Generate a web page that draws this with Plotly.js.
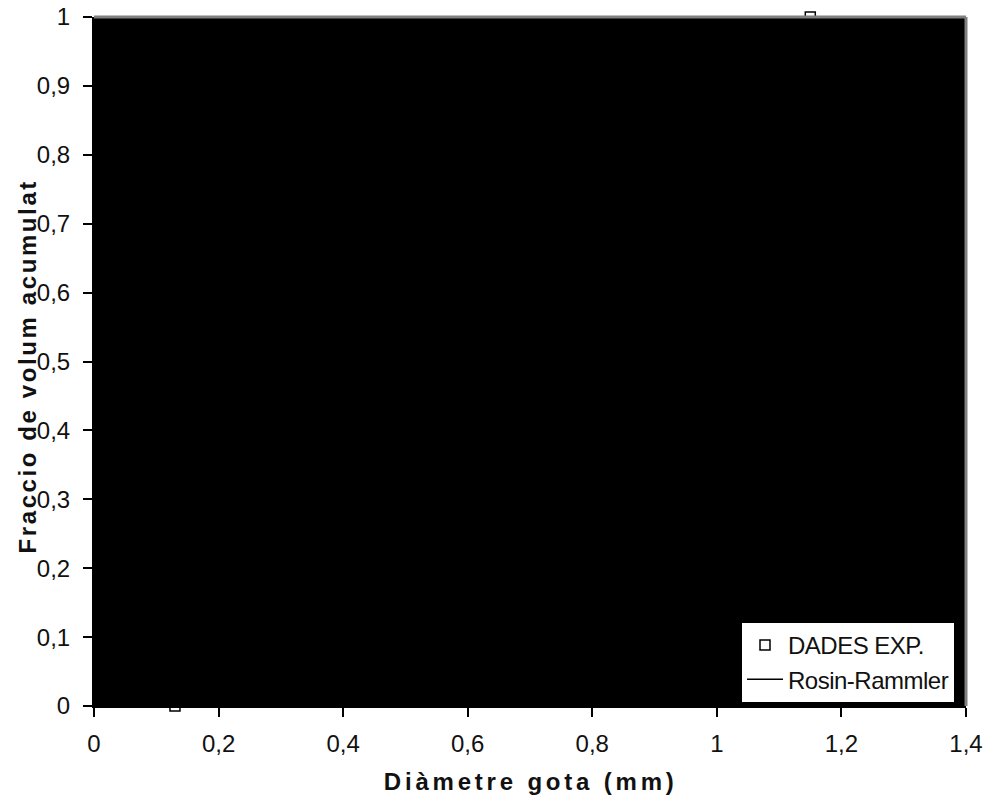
<!DOCTYPE html>
<html>
<head>
<meta charset="utf-8">
<script src="https://cdn.plot.ly/plotly-3.0.1.min.js"></script>
<style>
html,body{margin:0;padding:0;background:#fff;}
#chart{width:991px;height:812px;}
.annotation[data-index="0"] .annotation-text{letter-spacing:3.8px;}
.annotation[data-index="1"] .annotation-text{letter-spacing:2.6px;}
.legendtext{letter-spacing:-0.5px;}
</style>
</head>
<body>
<div id="chart"></div>
<script>
// Experimental data (cumulative volume fraction vs drop diameter, mm)
const expDiam = [0.13, 0.22, 0.31, 0.40, 0.49, 0.58, 0.67, 0.76, 0.85, 0.94, 1.04, 1.15];
const expFrac = [0.00, 0.03, 0.09, 0.18, 0.30, 0.44, 0.58, 0.71, 0.82, 0.91, 0.97, 1.00];
// Rosin-Rammler fitted curve (values estimated)
const rrDiam = [0.18, 0.25, 0.35, 0.45, 0.55, 0.65, 0.75, 0.85, 0.95, 1.05, 1.15, 1.25];
const rrFrac = [0.00, 0.04, 0.12, 0.24, 0.38, 0.53, 0.67, 0.79, 0.88, 0.94, 0.98, 0.99];
const xTicks = [0, 0.2, 0.4, 0.6, 0.8, 1, 1.2, 1.4];
const yTicks = [0, 0.1, 0.2, 0.3, 0.4, 0.5, 0.6, 0.7, 0.8, 0.9, 1];

const font = 'Arial, "Liberation Sans", sans-serif';
const traces = [
  {x: expDiam, y: expFrac, name: 'DADES EXP.', type: 'scatter', mode: 'markers',
   cliponaxis: false,
   marker: {symbol: 'square-open', size: 10, color: '#000', line: {width: 1.5, color: '#000'}}},
  {x: rrDiam, y: rrFrac, name: 'Rosin-Rammler', type: 'scatter', mode: 'lines',
   line: {color: '#000', width: 1.5}}
];
const L = 94, R = 966, T = 17, B = 706;
const layout = {
  width: 991, height: 812,
  margin: {l: L, r: 991 - R, t: T, b: 812 - B, pad: 0},
  paper_bgcolor: '#fff', plot_bgcolor: '#000',
  separators: ', ',
  font: {family: font, size: 24, color: '#000'},
  showlegend: true,
  xaxis: {range: [0, 1.4], tickvals: xTicks, tickformat: '.1~f', showgrid: false, zeroline: false,
          showline: true, linecolor: '#000', linewidth: 2, ticks: 'outside', ticklen: 9, tickwidth: 2,
          tickcolor: '#000', tickfont: {size: 24, family: font, color: '#111'}, ticklabelstandoff: 6,
          automargin: false},
  yaxis: {range: [0, 1], tickvals: yTicks, tickformat: '.1~f', showgrid: false, zeroline: false,
          showline: true, linecolor: '#000', linewidth: 2, ticks: 'outside', ticklen: 9, tickwidth: 2,
          tickcolor: '#000', tickfont: {size: 24, family: font, color: '#111'}, ticklabelstandoff: 8,
          automargin: false},
  legend: {x: (742 - L) / (R - L), y: (B - 623) / (B - T), xanchor: 'left', yanchor: 'top',
           bgcolor: '#fff', borderwidth: 0, font: {size: 24, family: font, color: '#111'}, itemwidth: 36,
           tracegroupgap: 0},
  shapes: [
    {type: 'line', xref: 'paper', yref: 'paper', x0: 0, x1: 1, y0: 1, y1: 1, line: {color: '#808080', width: 3}},
    {type: 'line', xref: 'paper', yref: 'paper', x0: 1, x1: 1, y0: 0, y1: 1, line: {color: '#808080', width: 3}}
  ],
  annotations: [
    {text: '<b>Diàmetre gota (mm)</b>', xref: 'paper', yref: 'paper', x: 0.5, y: -(781 - B) / (B - T),
     xanchor: 'center', yanchor: 'middle', showarrow: false, font: {size: 24, family: font, color: '#111'}},
    {text: '<b>Fraccio de volum acumulat</b>', xref: 'paper', yref: 'paper', x: -(L - 28) / (R - L), y: (B - 367) / (B - T),
     xanchor: 'center', yanchor: 'middle', textangle: -90, showarrow: false, font: {size: 24, family: font, color: '#111'}}
  ]
};
Plotly.newPlot('chart', traces, layout, {displayModeBar: false, staticPlot: true});
</script>
</body>
</html>
